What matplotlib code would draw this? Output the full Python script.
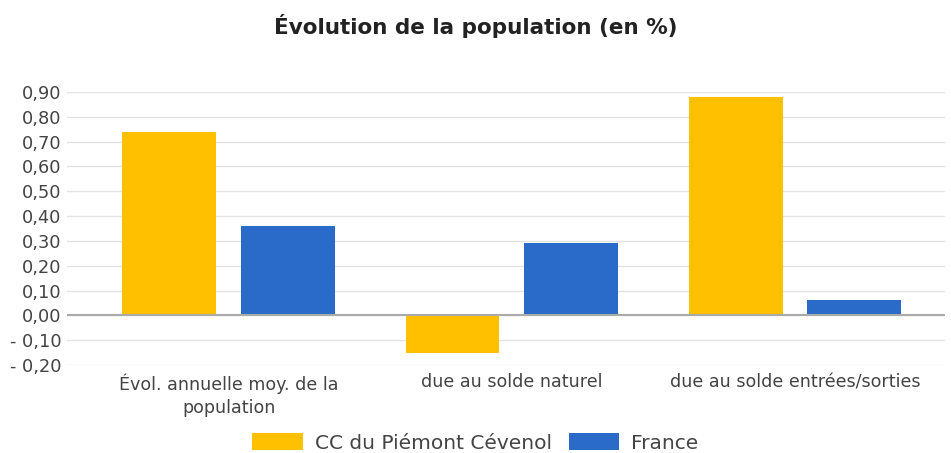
import matplotlib.pyplot as plt
import numpy as np
from matplotlib.ticker import FuncFormatter

plt.rcParams["font.family"] = ["DejaVu Sans"]

categories = ["Évol. annuelle moy. de la\npopulation", "due au solde naturel",
              "due au solde entrées/sorties"]
series_names = ["CC du Piémont Cévenol", "France"]
cc_values = [0.74, -0.15, 0.88]
france_values = [0.36, 0.29, 0.06]
colors = ["#FFC000", "#2A6AC9"]


def fr_fmt(v, pos):
    s = "{:.2f}".format(abs(v)).replace(".", ",")
    return "- " + s if v < -1e-9 else s


fig = plt.figure(figsize=(9.51, 4.53), dpi=100)
ax = fig.add_axes([67 / 951, 1 - 365 / 453, (945 - 67) / 951, (365 - 92) / 453])

x = np.arange(len(categories))
w = 0.332
off = 0.21
ax.bar(x - off, cc_values, w, color=colors[0], label=series_names[0], zorder=3)
ax.bar(x + off, france_values, w, color=colors[1], label=series_names[1], zorder=3)

ax.set_xlim(-0.572, 2.53)
ax.set_ylim(-0.2, 0.9)
ax.set_yticks(np.arange(-0.2, 0.91, 0.1))
ax.yaxis.set_major_formatter(FuncFormatter(fr_fmt))
ax.grid(axis="y", color="#e3e3e3", linewidth=1, zorder=0)
ax.axhline(0, color="#aaaaaa", linewidth=1.5, zorder=4)
for s in ax.spines.values():
    s.set_visible(False)
ax.tick_params(axis="y", length=0, pad=4, labelsize=12.8, labelcolor="#444444")
ax.tick_params(axis="x", length=0, pad=6, labelsize=12.6, labelcolor="#444444")
ax.set_xticks(x)
ax.set_xticklabels(categories, linespacing=1.35)

fig.text(0.5, 1 - 26 / 453, "Évolution de la population (en %)", ha="center", va="center",
         fontsize=15.5, fontweight="bold", color="#222222")

leg = fig.legend(loc="center", bbox_to_anchor=(0.5, 1 - 443 / 453), ncol=2, frameon=False,
                 fontsize=14.5, handlelength=2.5, handleheight=0.85, columnspacing=0.85,
                 handletextpad=0.6)
for t in leg.get_texts():
    t.set_color("#444444")

fig.savefig("out.png", dpi=100)
